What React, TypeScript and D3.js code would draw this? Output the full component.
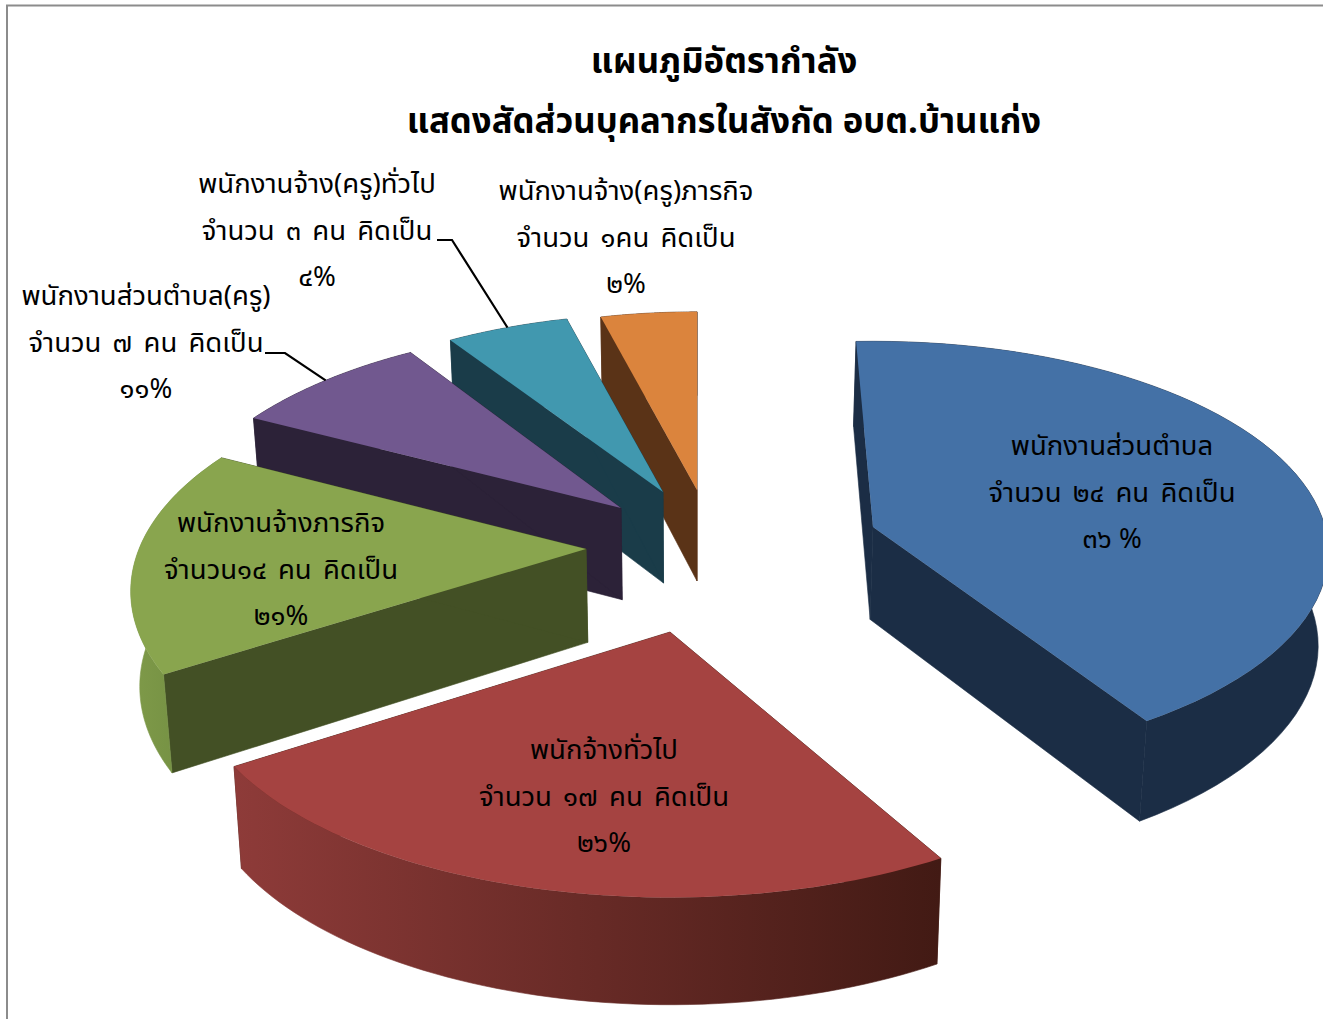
import React from "react";
import * as d3 from "d3";

const values = [24, 17, 14, 7, 3, 1];
const topColors = ["#4471a6", "#a54341", "#89a54e", "#71588f", "#4198af", "#db843d"];
const cutColors = ["#1b2d45", "#43190f", "#435025", "#2c2238", "#1a3c49", "#5a3317"];
const wallStart = ["#1b2d45", "#8e3b39", "#7f9a49", "#2c2238", "#1a3c49", "#5a3317"];
const wallEnd = ["#1b2d45", "#421a14", "#6d8a3f", "#2c2238", "#1a3c49", "#5a3317"];
const titleLines = ["แผนภูมิอัตรากำลัง", "แสดงสัดส่วนบุคลากรในสังกัด อบต.บ้านแก่ง"];
const labelLines = [
  ["พนักงานส่วนตำบล", "จำนวน ๒๔ คน คิดเป็น", "๓๖ %"],
  ["พนักจ้างทั่วไป", "จำนวน ๑๗ คน คิดเป็น", "๒๖%"],
  ["พนักงานจ้างภารกิจ", "จำนวน๑๔ คน คิดเป็น", "๒๑%"],
  ["พนักงานส่วนตำบล(ครู)", "จำนวน ๗ คน คิดเป็น", "๑๑%"],
  ["พนักงานจ้าง(ครู)ทั่วไป", "จำนวน ๓ คน คิดเป็น", "๔%"],
  ["พนักงานจ้าง(ครู)ภารกิจ", "จำนวน ๑คน คิดเป็น", "๒%"],
];

// layout
const W = 1332, H = 1019, CX = 697, CY = 490;
const RX = [452, 470, 447, 448, 440, 440];
const RY = [208, 215, 215, 215, 212, 212];
const KS = [0.12, 0.19, 0.19, 0.19, 0.19, 0.19];
const explode = [[176, 37], [-27, 142], [-111, 59], [-76, 18], [-34, 2], [0, 0]];
const startNudge = [0.6, 2.3, -0.2, 0, 0, 0];
const endNudge = [-2, -2.5, 0.5, 1, 0, 0];
const labelAnchor = [[1112, 455], [604, 759], [281, 532], [146, 305], [317, 193], [626, 200]];
const leaderElbow: (number[] | null)[] = [null, null, null, [265, 353, 285], [437, 240, 452], null];
const drawOrder = [5, 4, 3, 2, 1, 0];
const FONT = "'Noto Sans Thai','Noto Sans Thai Looped','TH Sarabun New','Loma','Garuda','Noto Sans','DejaVu Sans',sans-serif";
const rad = (d: number) => (d * Math.PI) / 180;

// Excel's 3-D pie distorts its angles: map true share angle → drawn disk angle
const arcs = d3.pie<number>().sort(null)(values);
const warp = d3.scaleLinear()
  .domain(arcs.map((a) => a.startAngle).concat(2 * Math.PI))
  .range([-3, 149, 238.5, 297, 326, 345, 360].map(rad));

function project(i: number, t: number, r = 1): [number, number] {
  const u = r * Math.sin(t), v = -r * Math.cos(t);
  const d = 1 - KS[i] * v;
  return [CX + explode[i][0] + (RX[i] * u) / d, CY + explode[i][1] + (RY[i] * v) / d];
}
const drop = ([x, y]: [number, number]): [number, number] => [CX + (x - CX) * 0.984, y + 91 + (y - 490) * 0.04];
const line = d3.line();

export default function App() {
  const slices = arcs.map((a, i) => {
    const t0 = warp(a.startAngle) + rad(startNudge[i]), t1 = warp(a.endAngle) + rad(endNudge[i]);
    const rim = d3.range(0, 61).map((k) => project(i, t0 + ((t1 - t0) * k) / 60));
    const apex = project(i, 0, 0);
    const first = rim[0], last = rim[rim.length - 1];
    return {
      i,
      mid: (t0 + t1) / 2,
      top: line([apex, ...rim])! + "Z",
      cut: line([apex, first, drop(first), drop(apex)])! + "Z",
      cut2: line([apex, last, drop(last), drop(apex)])! + "Z",
      wall: line([...rim, ...rim.slice().reverse().map(drop)])! + "Z",
      x0: Math.min(...rim.map((p) => p[0])),
      x1: Math.max(...rim.map((p) => p[0])),
    };
  });
  return (
    <svg width={W} height={H} viewBox={`0 0 ${W} ${H}`} style={{ position: "absolute", left: 0, top: 0, background: "#fff" }}>
      <defs>
        <clipPath id="pic"><rect x={0} y={0} width={1323} height={H} /></clipPath>
        {slices.map((s) => (
          <linearGradient key={s.i} id={`wall${s.i}`} gradientUnits="userSpaceOnUse" x1={s.x0} x2={s.x1} y1={0} y2={0}>
            <stop offset="0" stopColor={wallStart[s.i]} />
            <stop offset="1" stopColor={wallEnd[s.i]} />
          </linearGradient>
        ))}
      </defs>
      <g clipPath="url(#pic)">
        <path d="M7,1019V5.5H1323" fill="none" stroke="#8c8c8c" strokeWidth={2} />
        {drawOrder.map((i) => {
          const s = slices[i];
          return (
            <g key={i}>
              <path d={s.cut} fill={cutColors[i]} stroke={cutColors[i]} strokeWidth={0.6} />
              <path d={s.cut2} fill={cutColors[i]} stroke={cutColors[i]} strokeWidth={0.6} />
              <path d={s.wall} fill={`url(#wall${i})`} stroke={`url(#wall${i})`} strokeWidth={0.6} />
              <path d={s.top} fill={topColors[i]} />
            </g>
          );
        })}
        {slices.map((s) => {
          const e = leaderElbow[s.i];
          if (!e) return null;
          const [px, py] = project(s.i, s.mid);
          return <polyline key={s.i} points={`${e[0]},${e[1]} ${e[2]},${e[1]} ${px},${py}`} fill="none" stroke="#000" strokeWidth={2.2} />;
        })}
      </g>
      <g fontFamily={FONT} fill="#000" textAnchor="middle">
        {titleLines.map((t, i) => (
          <text key={i} x={724} y={73 + i * 60} fontSize={34.7} fontWeight={700}>{t}</text>
        ))}
        {labelLines.map((lines, i) =>
          lines.map((t, j) => (
            <text key={j + "-" + i} x={labelAnchor[i][0]} y={labelAnchor[i][1] + j * 46.7} fontSize={27.5} wordSpacing={j === 1 ? 4 : 0}>{t}</text>
          ))
        )}
      </g>
    </svg>
  );
}
